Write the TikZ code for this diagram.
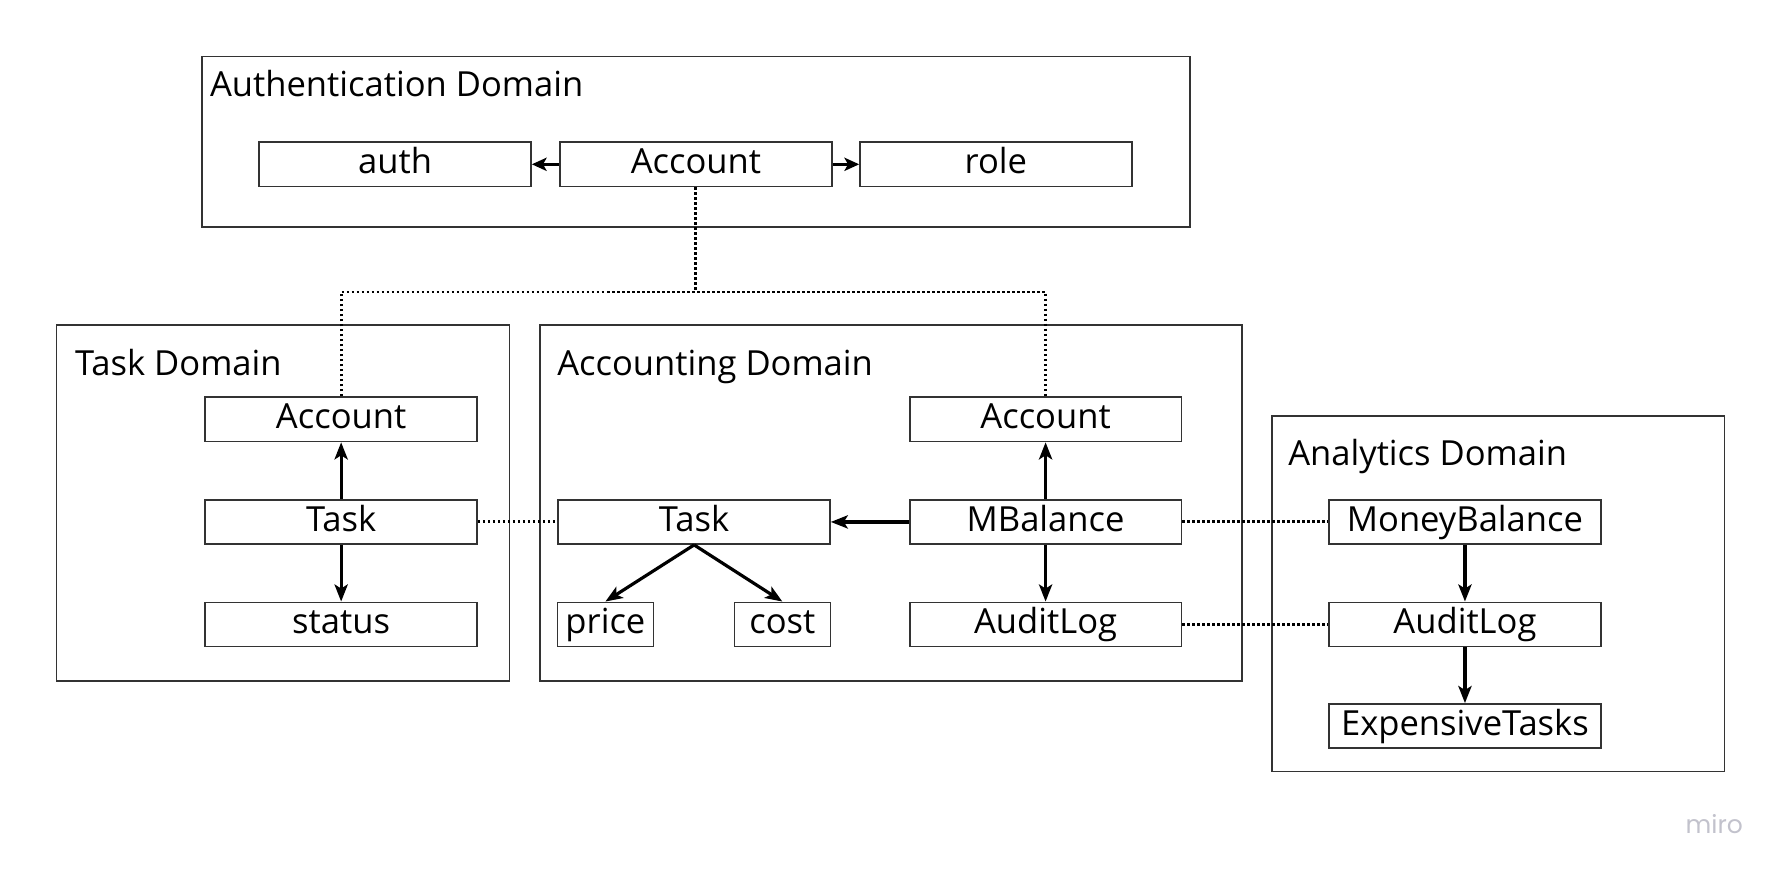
\documentclass[tikz,border=0pt]{standalone}
\usepackage{fontspec}
\setmainfont{Open Sans}
\newfontfamily\mirofamily{Poppins}
\usetikzlibrary{arrows.meta}
\definecolor{boxline}{HTML}{333333}
\definecolor{mirogray}{HTML}{C2C2CC}
\begin{document}
\begin{tikzpicture}[x=0.5pt,y=-0.5pt,
  domain/.style={draw=boxline, line width=0.7pt, minimum width=#1, inner sep=0, anchor=north west},
  dtitle/.style={inner sep=0, anchor=base west, font=\fontsize{15.2}{18}\selectfont},
  entity/.style={draw=boxline, line width=0.7pt, minimum width=119.5pt, minimum height=19.5pt,
    inner sep=0, text height=10.8pt, text depth=2.6pt, font=\fontsize{15.2}{18}\selectfont},
  arr/.style={line width=1.4pt, -{Stealth[length=7.5pt,width=5.8pt,inset=1.8pt]}},
  sarr/.style={line width=1.4pt, -{Stealth[length=6.5pt,width=5.8pt,inset=1.6pt]}},
  dotline/.style={line width=1.3pt, dash pattern=on 1.1pt off 1.1pt}]
\useasboundingbox (0,0) rectangle (1568,770);

% domains
\node[domain=434.5pt, minimum height=74.9pt] (authD) at (177,49) {};
\node[domain=199.15pt, minimum height=156.5pt] (taskD) at (49,285) {};
\node[domain=308.75pt, minimum height=156.5pt] (accD) at (474,285) {};
\node[domain=199pt, minimum height=156.4pt] (anD) at (1118,365) {};

\node[dtitle] (authT) at (184.3,85) {Authentication Domain};
\node[dtitle] (taskT) at (65.6,330) {Task Domain};
\node[dtitle] (accT) at (489.7,330) {Accounting Domain};
\node[dtitle] (anT) at (1132.5,409) {Analytics Domain};

% authentication
\node[entity] (auth) at (347.5,144.5) {auth};
\node[entity] (acct) at (612,144.5) {Account};
\node[entity] (role) at (875.8,144.5) {role};

% task domain
\node[entity] (tAcc) at (300,368.8) {Account};
\node[entity] (tTask) at (300,459) {Task};
\node[entity] (tStatus) at (300,549.2) {status};

% accounting domain
\node[entity] (aTask) at (610.4,459) {Task};
\node[entity, minimum width=42.2pt] (price) at (532.4,549.2) {price};
\node[entity, minimum width=42.2pt] (cost) at (688,549.2) {cost};
\node[entity] (aAcc) at (919.5,368.8) {Account};
\node[entity] (aMB) at (919.5,459) {MBalance};
\node[entity] (aAL) at (919.5,549.2) {AuditLog};

% analytics domain
\node[entity] (nMB) at (1288.3,459) {MoneyBalance};
\node[entity] (nAL) at (1288.3,549.2) {AuditLog};
\node[entity] (nET) at (1288.3,638.5) {ExpensiveTasks};

% connectors
\draw[sarr] (acct) -- (auth);
\draw[sarr] (acct) -- (role);
\draw[arr] (tTask) -- (tAcc);
\draw[arr] (tTask) -- (tStatus);
\draw[dotline] (tTask) -- (aTask);
\draw[arr] (aMB) -- (aTask);
\draw[arr] (aMB) -- (aAcc);
\draw[arr] (aMB) -- (aAL);
\draw[arr] (aTask.south) -- (price.north);
\draw[arr] (aTask.south) -- (cost.north);
\draw[dotline] (aMB) -- (nMB);
\draw[dotline] (aAL) -- (nAL);
\draw[arr] (nMB) -- (nAL);
\draw[arr] (nAL) -- (nET);

\coordinate (j) at (612,256.8);
\draw[dotline] (acct.south) -- (j);
\draw[dotline] (tAcc.north) |- (j) -| (aAcc.north);

\node[inner sep=0, anchor=base west, text=mirogray, font=\mirofamily\fontsize{11}{13}\selectfont] (miro) at (1482,732.6) {miro};
\end{tikzpicture}
\end{document}
